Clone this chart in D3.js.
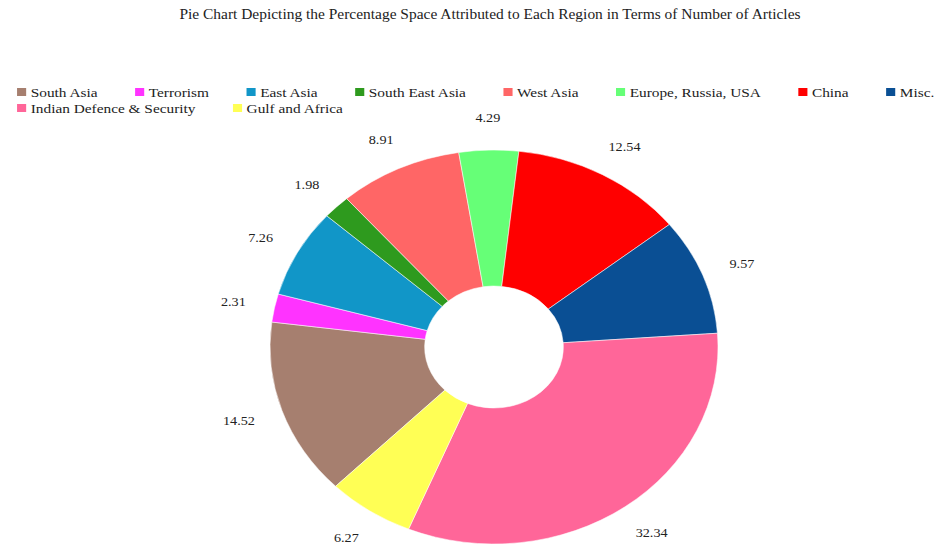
<!DOCTYPE html>
<html>
<head>
<meta charset="utf-8">
<script src="https://cdn.jsdelivr.net/npm/d3@7"></script>
<style>
  html, body { margin: 0; padding: 0; background: #fff; }
  svg { display: block; }
</style>
</head>
<body>
<svg id="chart" width="938" height="548"></svg>
<script>
// ---- data ----
const categories = ["South Asia", "Terrorism", "East Asia", "South East Asia", "West Asia",
  "Europe, Russia, USA", "China", "Misc.", "Indian Defence & Security", "Gulf and Africa"];
const values = [14.52, 2.31, 7.26, 1.98, 8.91, 4.29, 12.54, 9.57, 32.34, 6.27];
const colors = ["#a67f6f", "#ff33ff", "#1196c8", "#2e9a1e", "#ff6666",
  "#66ff77", "#ff0000", "#0a4f94", "#ff6699", "#ffff55"];
const titleText = "Pie Chart Depicting the Percentage Space  Attributed to Each Region in Terms of Number of Articles";

// ---- layout ----
const W = 938, H = 548;
const S = 1.137;              // horizontal stretch of the whole picture
const cx = 494 / S, cy = 347;
const R = 197, r0 = 61;
const gap = 26, hh = 6;
const startAngle = 225 * Math.PI / 180;
const FONT = "Liberation Serif, Times New Roman, serif";

const svg = d3.select("#chart");
const root = svg.append("g").attr("transform", `scale(${S},1)`);

// title
root.append("text")
  .attr("x", 490 / S).attr("y", 19)
  .attr("text-anchor", "middle")
  .attr("font-family", FONT)
  .attr("font-size", 13.6)
  .attr("fill", "#222")
  .text(titleText);

// legend (flow layout)
const legend = root.append("g").attr("font-family", FONT)
  .attr("font-size", 13.5).attr("fill", "#222");
let lx = 15, ly = 92;
const rowH = 16, maxX = W / S - 2;
categories.forEach((c, i) => {
  const g = legend.append("g");
  g.append("rect").attr("width", 8).attr("height", 8).attr("y", -4).attr("fill", colors[i]);
  const t = g.append("text").attr("x", 12).attr("dy", "0.35em").text(c);
  const w = 12 + t.node().getComputedTextLength();
  if (lx + w > maxX) { lx = 15; ly += rowH; }
  g.attr("transform", `translate(${lx},${ly})`);
  lx += w + 33;
});

// pie
const pie = d3.pie().sort(null).value(d => d)
  .startAngle(startAngle).endAngle(startAngle + 2 * Math.PI);
const arcs = pie(values);
const arc = d3.arc().innerRadius(r0).outerRadius(R);

const pg = root.append("g").attr("transform", `translate(${cx},${cy})`);
pg.selectAll("path").data(arcs).join("path")
  .attr("d", arc)
  .attr("fill", (d, i) => colors[i])
  .attr("stroke", "#fff").attr("stroke-width", 0.5);

// labels outside the ring, kept inside the picture at the bottom
const maxLabelY = 540 - cy;
const Rl = R + gap + hh;
pg.selectAll("text").data(arcs).join("text")
  .attr("text-anchor", "middle")
  .attr("dy", "0.35em")
  .attr("font-family", FONT)
  .attr("font-size", 12.5)
  .attr("fill", "#222")
  .text(d => d.data.toFixed(2))
  .each(function (d) {
    const a = (d.startAngle + d.endAngle) / 2;
    const hw = this.getComputedTextLength() / 2;
    let x = Math.sin(a) * (R + gap + hw);
    let y = -Math.cos(a) * (R + gap + hh);
    if (y > maxLabelY) {
      y = maxLabelY;
      x = Math.sign(x) * Math.sqrt(Math.max(0, Rl * Rl - y * y));
    }
    d3.select(this).attr("x", x).attr("y", y);
  });
</script>
</body>
</html>
